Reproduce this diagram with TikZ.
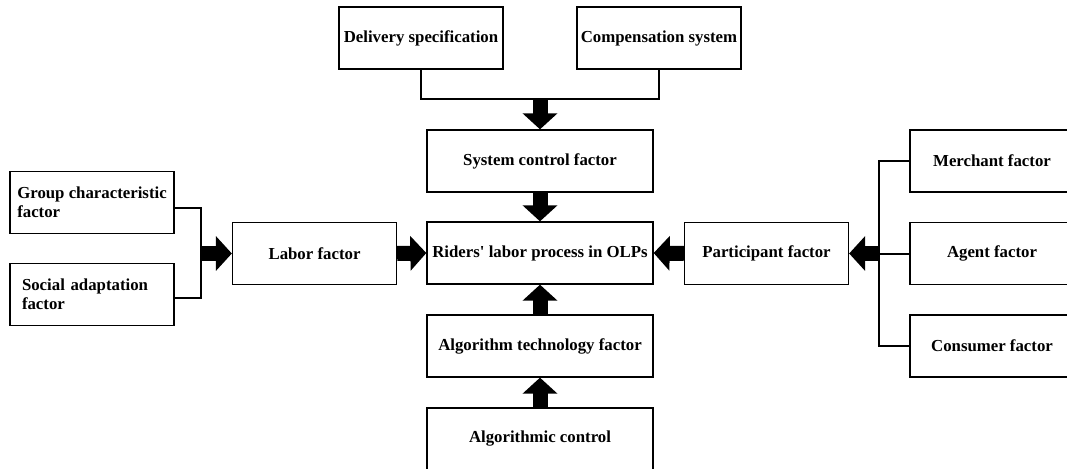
\documentclass[tikz,border=0pt]{standalone}
\usepackage{fontspec}
\setmainfont{Liberation Serif}
\usetikzlibrary{arrows.meta}

\begin{document}
\begin{tikzpicture}[line join=miter,x=1pt,y=-1pt,
  box/.style={draw,line width=1.3pt,minimum width=164pt,minimum height=62pt,inner sep=0pt,font=\fontsize{16.8}{19.5}\selectfont\bfseries,align=center},
  wide/.style={box,minimum width=226pt},
  link/.style={line width=2pt},
  fat/.style={line width=15pt,-{Triangle[width=34pt,length=16pt]}}]
\useasboundingbox (0,0) rectangle (1067,468);
\node[box] (deliv) at (421,38) {Delivery specification};
\node[box] (comp) at (659,38) {Compensation system};
\node[wide] (sys) at (540,161) {System control factor};
\node[wide] (core) at (540,253) {Riders\textquotesingle\ labor process in OLPs};
\node[wide] (algtech) at (540,346) {Algorithm technology factor};
\node[wide] (algctl) at (540,439) {Algorithmic control};
\node[box] (labor) at (314.5,253.5) {Labor factor};
\node[box,align=left] (group) at (92,202.5) {Group characteristic\\factor};
\node[box,align=left,text width=140pt] (social) at (92,294.5) {Social adaptation\\factor};
\node[box] (part) at (766.5,253.5) {Participant factor};
\node[box] (merch) at (992,161) {Merchant factor};
\node[box] (agent) at (992,253.5) {Agent factor};
\node[box] (cons) at (992,346) {Consumer factor};
\coordinate (topjoin) at (540,99);
\coordinate (leftjoin) at (201,253.5);
\coordinate (rightjoin) at (879,253.5);
\draw[link] (deliv.south) |- (topjoin) -| (comp.south);
\draw[link] ([yshift=-5pt]group.east) -| (leftjoin) |- ([yshift=-3pt]social.east);
\draw[link] (merch.west) -| (rightjoin) |- (cons.west);
\draw[link] (agent.west) -- (rightjoin);
\draw[fat] (topjoin) -- (sys.north);
\draw[fat] (sys.south) -- (core.north);
\draw[fat] (algtech.north) -- (core.south);
\draw[fat] (algctl.north) -- (algtech.south);
\draw[fat] (leftjoin) -- (labor.west);
\draw[fat] (labor.east) -- (core.west);
\draw[fat] (rightjoin) -- (part.east);
\draw[fat] (part.west) -- (core.east);
\end{tikzpicture}
\end{document}
